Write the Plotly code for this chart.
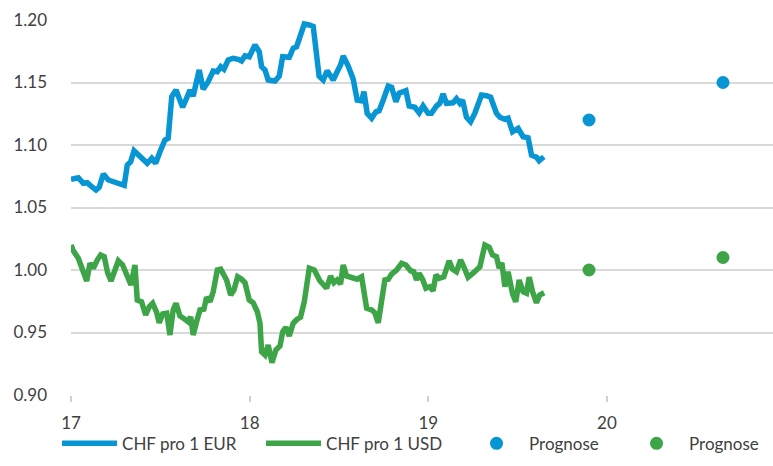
import plotly.graph_objects as go

# Decimal years (17 = 2017) and rates
eur_x = [17.000, 17.041, 17.069, 17.091, 17.116, 17.140, 17.158, 17.181, 17.209, 17.246,
         17.274, 17.298, 17.315, 17.334, 17.353, 17.386, 17.427, 17.452, 17.474, 17.498,
         17.526, 17.544, 17.564, 17.588, 17.625, 17.647, 17.666, 17.684, 17.718, 17.740,
         17.768, 17.796, 17.819, 17.838, 17.856, 17.880, 17.908, 17.936, 17.955, 17.974,
         17.998, 18.030, 18.054, 18.067, 18.086, 18.104, 18.142, 18.166, 18.185, 18.222,
         18.244, 18.263, 18.306, 18.334, 18.356, 18.389, 18.412, 18.434, 18.468, 18.490,
         18.509, 18.524, 18.552, 18.580, 18.602, 18.627, 18.640, 18.658, 18.683, 18.707,
         18.725, 18.748, 18.776, 18.795, 18.819, 18.837, 18.875, 18.893, 18.925, 18.949,
         18.971, 18.999, 19.018, 19.046, 19.065, 19.083, 19.102, 19.139, 19.158, 19.177,
         19.192, 19.214, 19.237, 19.261, 19.298, 19.326, 19.349, 19.382, 19.401, 19.429,
         19.447, 19.472, 19.503, 19.531, 19.559, 19.578, 19.606, 19.621, 19.647]
eur_y = [1.0726, 1.0738, 1.0694, 1.0698, 1.0666, 1.0640, 1.0662, 1.0768, 1.0720, 1.0706,
         1.0686, 1.0678, 1.0840, 1.0866, 1.0954, 1.0906, 1.0854, 1.0894, 1.0854, 1.0946,
         1.1040, 1.1054, 1.1386, 1.1440, 1.1302, 1.1374, 1.1440, 1.1392, 1.1600, 1.1446,
         1.1506, 1.1592, 1.1586, 1.1626, 1.1606, 1.1680, 1.1694, 1.1686, 1.1672, 1.1714,
         1.1706, 1.1800, 1.1746, 1.1626, 1.1600, 1.1520, 1.1512, 1.1552, 1.1706, 1.1702,
         1.1774, 1.1786, 1.1968, 1.1960, 1.1948, 1.1550, 1.1520, 1.1594, 1.1520, 1.1586,
         1.1640, 1.1712, 1.1632, 1.1526, 1.1360, 1.1354, 1.1426, 1.1254, 1.1214, 1.1266,
         1.1274, 1.1360, 1.1472, 1.1462, 1.1346, 1.1414, 1.1434, 1.1312, 1.1302, 1.1258,
         1.1312, 1.1254, 1.1254, 1.1312, 1.1334, 1.1408, 1.1334, 1.1338, 1.1370, 1.1334,
         1.1360, 1.1222, 1.1186, 1.1254, 1.1400, 1.1394, 1.1382, 1.1254, 1.1222, 1.1206,
         1.1214, 1.1106, 1.1134, 1.1066, 1.1058, 1.0920, 1.0902, 1.0874, 1.0906]

usd_x = [17.000, 17.013, 17.041, 17.065, 17.088, 17.106, 17.125, 17.147, 17.166, 17.186,
         17.205, 17.224, 17.242, 17.265, 17.289, 17.312, 17.336, 17.358, 17.371, 17.395,
         17.418, 17.438, 17.457, 17.480, 17.494, 17.513, 17.536, 17.554, 17.572, 17.588,
         17.610, 17.638, 17.656, 17.670, 17.684, 17.703, 17.722, 17.744, 17.759, 17.778,
         17.796, 17.819, 17.838, 17.871, 17.894, 17.912, 17.933, 17.955, 17.974, 17.998,
         18.020, 18.043, 18.058, 18.067, 18.086, 18.104, 18.125, 18.147, 18.170, 18.185,
         18.203, 18.222, 18.244, 18.266, 18.285, 18.306, 18.334, 18.362, 18.393, 18.431,
         18.453, 18.472, 18.490, 18.509, 18.524, 18.543, 18.580, 18.602, 18.627, 18.655,
         18.683, 18.701, 18.720, 18.739, 18.757, 18.776, 18.795, 18.823, 18.851, 18.875,
         18.901, 18.919, 18.934, 18.949, 18.968, 18.987, 19.009, 19.027, 19.043, 19.061,
         19.087, 19.117, 19.136, 19.158, 19.181, 19.199, 19.223, 19.251, 19.270, 19.289,
         19.317, 19.341, 19.360, 19.382, 19.397, 19.412, 19.429, 19.447, 19.472, 19.490,
         19.509, 19.531, 19.550, 19.565, 19.584, 19.606, 19.624, 19.649]
usd_y = [1.0200, 1.0154, 1.0094, 1.0014, 0.9912, 1.0054, 1.0014, 1.0080, 1.0120, 1.0106,
         0.9978, 0.9912, 1.0000, 1.0074, 1.0040, 0.9966, 0.9880, 1.0040, 0.9760, 0.9746,
         0.9640, 0.9706, 0.9734, 0.9658, 0.9578, 0.9648, 0.9654, 0.9480, 0.9680, 0.9734,
         0.9632, 0.9606, 0.9586, 0.9626, 0.9480, 0.9586, 0.9680, 0.9686, 0.9782, 0.9746,
         0.9826, 1.0000, 1.0006, 0.9920, 0.9800, 0.9840, 0.9946, 0.9926, 0.9898, 0.9760,
         0.9738, 0.9666, 0.9574, 0.9346, 0.9320, 0.9400, 0.9258, 0.9360, 0.9392, 0.9506,
         0.9542, 0.9472, 0.9574, 0.9606, 0.9622, 0.9746, 1.0014, 1.0000, 0.9914, 0.9854,
         0.9952, 0.9898, 0.9920, 0.9888, 1.0040, 0.9952, 0.9934, 0.9926, 0.9946, 0.9694,
         0.9680, 0.9658, 0.9578, 0.9786, 0.9920, 0.9926, 0.9968, 1.0000, 1.0054, 1.0040,
         0.9994, 0.9986, 0.9920, 0.9974, 0.9926, 0.9854, 0.9866, 0.9834, 0.9960, 0.9934,
         0.9946, 1.0074, 1.0006, 0.9986, 1.0080, 1.0026, 0.9942, 0.9974, 1.0008, 1.0026,
         1.0200, 1.0182, 1.0120, 1.0106, 1.0014, 1.0058, 0.9866, 0.9986, 0.9808, 0.9746,
         0.9920, 0.9826, 0.9814, 0.9942, 0.9826, 0.9738, 0.9800, 0.9818]

forecast_x = [19.90, 20.65]
forecast_eur = [1.12, 1.15]
forecast_usd = [1.00, 1.01]

x_tickvals = [17, 18, 19, 20]
x_ticktext = ["17", "18", "19", "20"]
y_tickvals = [0.90, 0.95, 1.00, 1.05, 1.10, 1.15, 1.20]
y_ticktext = ["0.90", "0.95", "1.00", "1.05", "1.10", "1.15", "1.20"]

BLUE = "#0795d3"
GREEN = "#3da547"
FONT = "Lato"
TXT = "#404040"

fig = go.Figure()
fig.add_trace(go.Scatter(x=eur_x, y=eur_y, mode="lines", name="CHF pro 1 EUR",
                         line=dict(color=BLUE, width=5.5), legendwidth=134))
fig.add_trace(go.Scatter(x=usd_x, y=usd_y, mode="lines", name="CHF pro 1 USD",
                         line=dict(color=GREEN, width=5.5), legendwidth=133))
fig.add_trace(go.Scatter(x=forecast_x, y=forecast_eur, mode="markers", name="Prognose",
                         marker=dict(color=BLUE, size=13), legendwidth=90))
fig.add_trace(go.Scatter(x=forecast_x, y=forecast_usd, mode="markers", name="Prognose",
                         marker=dict(color=GREEN, size=13), legendwidth=75))

fig.update_layout(
    width=773, height=466,
    margin=dict(l=71, r=0, t=20, b=71, autoexpand=False),
    paper_bgcolor="white", plot_bgcolor="white",
    font=dict(family=FONT, size=17, color=TXT),
    showlegend=True,
    legend=dict(orientation="h", x=-0.0199, xanchor="left", y=-0.13, yanchor="middle",
                bgcolor="rgba(0,0,0,0)",
                font=dict(family=FONT, size=17, color=TXT),
                itemwidth=55, traceorder="normal"),
    xaxis=dict(range=[17, 20.93], tickvals=x_tickvals, ticktext=x_ticktext,
               showgrid=False, zeroline=False, showline=False,
               ticks="outside", ticklen=6, tickcolor="#d0d0d0", tickwidth=1.5,
               ticklabelstandoff=7, automargin=False,
               tickfont=dict(family=FONT, size=17, color=TXT)),
    yaxis=dict(range=[0.9, 1.2], tickvals=y_tickvals, ticktext=y_ticktext,
               showgrid=True, gridcolor="#d9d9d9", gridwidth=1.5, zeroline=False,
               showline=False, ticks="", ticklabelstandoff=23, automargin=False,
               tickfont=dict(family=FONT, size=17, color=TXT)),
)

fig.write_html("out.html", config={"displayModeBar": False},
               post_script="document.body.style.margin='0';")
